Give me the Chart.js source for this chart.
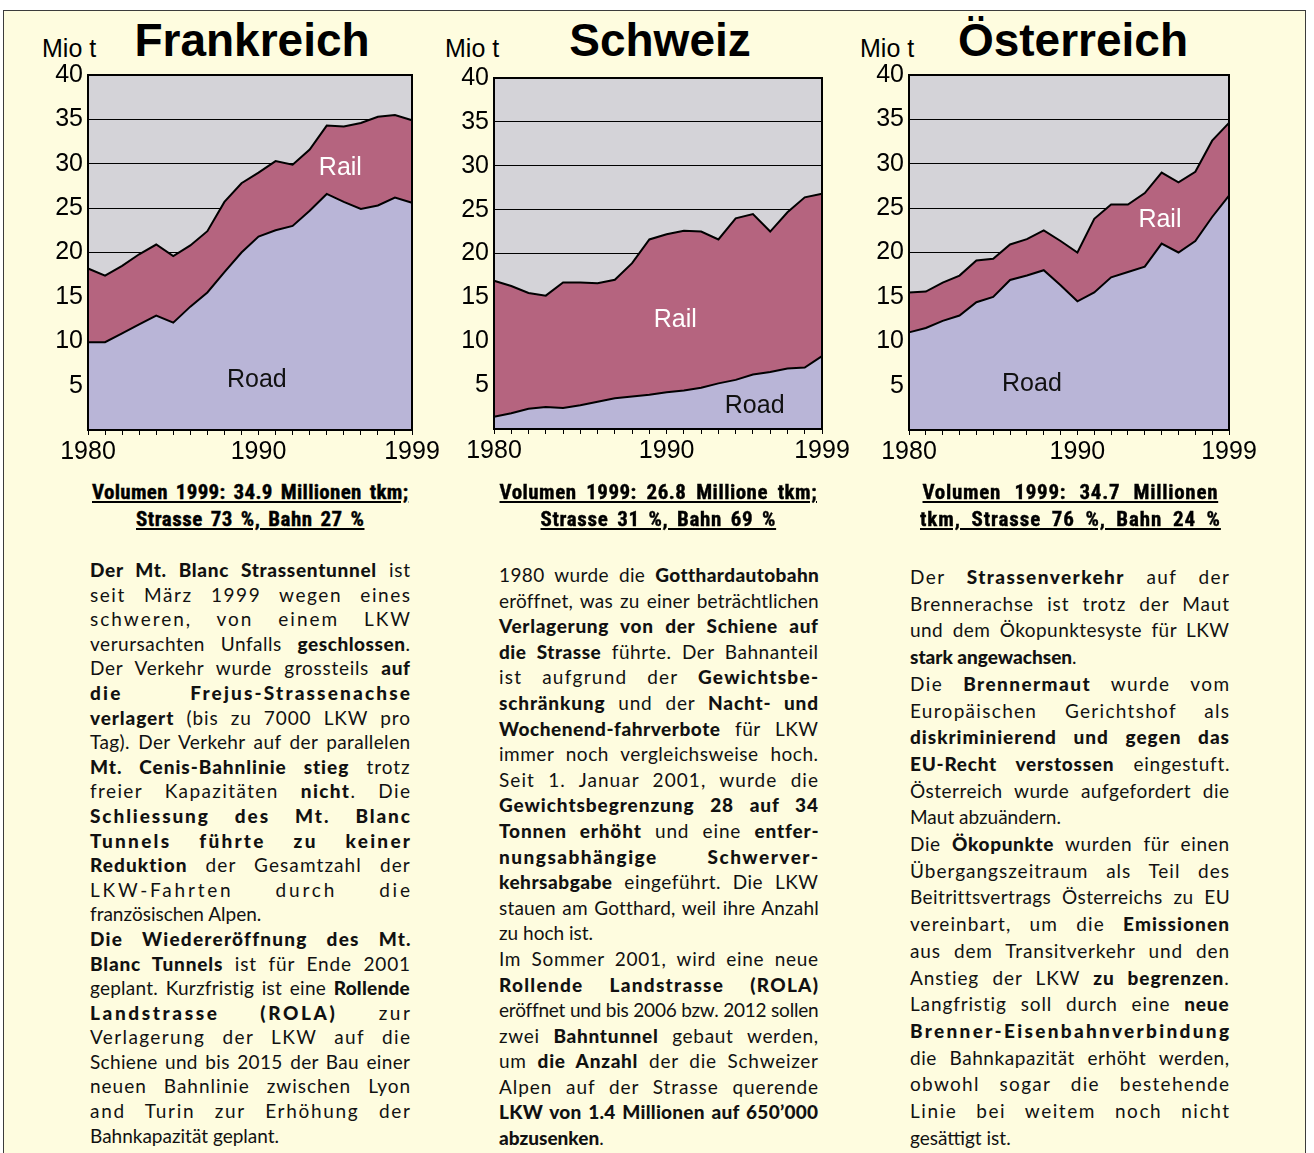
<!DOCTYPE html>
<html>
<head>
<meta charset="utf-8">
<script src="https://cdn.jsdelivr.net/npm/chart.js@4.4.1/dist/chart.umd.min.js"></script>
<style>
  body { margin:0; width:1314px; height:1153px; overflow:hidden; position:relative; background:#fff; }
  #box { position:absolute; left:3px; top:10px; width:1301px; height:1200px; border:1.5px solid #3c3c3c; background:#fefcdf; }
  .abs { position:absolute; }
  canvas { position:absolute; }
  .mio { font:25px Arial, "Liberation Sans", sans-serif; line-height:25px; color:#000; white-space:nowrap; }
  .title { font:bold 46px Arial, "Liberation Sans", sans-serif; line-height:46px; width:400px; text-align:center; color:#000; }
  .head { font:bold 21px "Liberation Sans Narrow", "Roboto Condensed", Arial, sans-serif; line-height:26.5px; color:#000; white-space:nowrap; -webkit-text-stroke:0.4px #000; }
  .head span { text-decoration:underline; text-underline-offset:2px; text-decoration-thickness:2px; }
  .col { font-family:Lato, "Noto Sans", sans-serif; font-size:19px; color:#111; }
  .col div { white-space:nowrap; }
  .col b { font-weight:900; }
</style>
</head>
<body>
<div id="box"></div>

<div class="abs mio" style="left:42px;top:36px">Mio t</div>
<div class="abs title" style="left:52px;top:17px">Frankreich</div>
<div class="abs mio" style="left:445px;top:36px">Mio t</div>
<div class="abs title" style="left:460px;top:17px">Schweiz</div>
<div class="abs mio" style="left:860px;top:36px">Mio t</div>
<div class="abs title" style="left:873px;top:17px">Österreich</div>

<canvas id="fr" width="424" height="419" style="left:28px;top:55px"></canvas>
<canvas id="ch" width="428" height="415" style="left:434px;top:58px"></canvas>
<canvas id="at" width="420" height="419" style="left:849px;top:55px"></canvas>

<div id="texts"></div>

<script>
// years on the x axis, only some of them get a label
const years = ['1980','1981','1982','1983','1984','1985','1986','1987','1988','1989',
               '1990','1991','1992','1993','1994','1995','1996','1997','1998','1999'];
const xTickLabels = ['1980', '1990', '1999'];

// Mio t per year (rail is stacked on top of road)
const frRoad = [9.9, 9.9, 10.9, 11.9, 12.9, 12.1, 13.9, 15.5, 17.8, 20.0, 21.8, 22.5, 23.0, 24.7, 26.6, 25.7, 24.9, 25.3, 26.2, 25.6];
const frRail = [8.3, 7.5, 7.6, 7.9, 8.0, 7.5, 6.9, 6.9, 7.9, 7.8, 7.2, 7.8, 6.9, 6.9, 7.7, 8.5, 9.7, 10.0, 9.3, 9.3];

const chRoad = [1.4, 1.8, 2.3, 2.5, 2.4, 2.7, 3.1, 3.5, 3.7, 3.9, 4.2, 4.4, 4.7, 5.2, 5.6, 6.2, 6.5, 6.9, 7.0, 8.3];
const chRail = [15.5, 14.5, 13.2, 12.7, 14.3, 14.0, 13.5, 13.5, 15.2, 17.7, 18.0, 18.2, 17.8, 16.4, 18.4, 18.3, 16.0, 17.8, 19.4, 18.5];

const atRoad = [11.0, 11.5, 12.3, 12.9, 14.4, 15.0, 16.9, 17.4, 18.0, 16.3, 14.5, 15.5, 17.2, 17.8, 18.4, 21.0, 20.0, 21.3, 24.0, 26.4];
const atRail = [4.5, 4.1, 4.3, 4.5, 4.7, 4.3, 4.0, 4.1, 4.5, 5.0, 5.5, 8.3, 8.2, 7.6, 8.3, 8.0, 7.9, 7.8, 8.6, 8.2];

const ROAD_COLOR = '#b9b5d7';
const RAIL_COLOR = '#b5647f';
const PLOT_BG = '#d4d3d8';
const AXIS_FONT = { family: 'Arial, "Liberation Sans", sans-serif', size: 25 };

const plotBg = {
  id: 'plotBg',
  beforeDraw(chart) {
    const a = chart.chartArea, ctx = chart.ctx;
    ctx.save();
    ctx.fillStyle = PLOT_BG;
    ctx.fillRect(a.left, a.top, a.right - a.left, a.bottom - a.top);
    ctx.restore();
  }
};

const frame = {
  id: 'frame',
  afterDatasetsDraw(chart) {
    const a = chart.chartArea, ctx = chart.ctx;
    ctx.save();
    ctx.strokeStyle = '#000';
    ctx.lineWidth = 2;
    ctx.strokeRect(a.left, a.top, a.right - a.left, a.bottom - a.top);
    ctx.restore();
  }
};

// "Rail" / "Road" written inside the areas, placed in data units
const areaLabels = {
  id: 'areaLabels',
  afterDatasetsDraw(chart, args, opts) {
    const ctx = chart.ctx;
    ctx.save();
    ctx.font = '25px Arial, "Liberation Sans", sans-serif';
    ctx.textAlign = 'center';
    ctx.textBaseline = 'middle';
    (opts.items || []).forEach(it => {
      ctx.fillStyle = it.color;
      ctx.fillText(it.text, chart.scales.x.getPixelForValue(it.at[0]), chart.scales.y.getPixelForValue(it.at[1]));
    });
    ctx.restore();
  }
};

function buildAreaChart(id, road, rail, labelItems) {
  new Chart(document.getElementById(id), {
    type: 'line',
    data: {
      labels: years,
      datasets: [
        { label: 'Road', data: road, fill: 'origin', backgroundColor: ROAD_COLOR,
          borderColor: '#000', borderWidth: 2, pointRadius: 0, tension: 0 },
        { label: 'Rail', data: rail, fill: '-1', backgroundColor: RAIL_COLOR,
          borderColor: '#000', borderWidth: 2, pointRadius: 0, tension: 0 }
      ]
    },
    options: {
      responsive: false,
      animation: false,
      devicePixelRatio: 1,
      layout: { padding: { top: 16, right: 40, left: 0, bottom: 0 } },
      plugins: {
        legend: { display: false },
        tooltip: { enabled: false },
        areaLabels: { items: labelItems }
      },
      scales: {
        x: {
          ticks: {
            autoSkip: false, maxRotation: 0, color: '#000', font: AXIS_FONT, padding: 2,
            callback: function(v) {
              const l = this.getLabelForValue(v);
              return xTickLabels.includes(l) ? l : '';
            }
          },
          grid: { drawOnChartArea: false, drawTicks: true, tickLength: 5, color: '#000', lineWidth: 1 },
          border: { display: true, color: '#000', width: 2 },
          afterFit: s => { s.height = 44; }
        },
        y: {
          stacked: true, min: 0, max: 40,
          ticks: { stepSize: 5, color: '#000', font: AXIS_FONT, padding: 5,
                   callback: v => v === 0 ? '' : v },
          grid: { color: '#000', lineWidth: 1, drawTicks: false },
          border: { display: true, color: '#000', width: 2 },
          afterFit: s => { s.width = 60; }
        }
      }
    },
    plugins: [plotBg, frame, areaLabels]
  });
}

buildAreaChart('fr', frRoad, frRail, [
  { text: 'Rail', at: [14.8, 29.5], color: '#fff' },
  { text: 'Road', at: [9.9, 5.6], color: '#111' }
]);
buildAreaChart('ch', chRoad, chRail, [
  { text: 'Rail', at: [10.5, 12.4], color: '#fff' },
  { text: 'Road', at: [15.1, 2.6], color: '#111' }
]);
buildAreaChart('at', atRoad, atRail, [
  { text: 'Rail', at: [14.9, 23.6], color: '#fff' },
  { text: 'Road', at: [7.3, 5.2], color: '#111' }
]);

// ---- text below the charts ----
const headings = [
  { center: 250, top: 479, lines: [['Volumen 1999: 34.9 Millionen tkm;', 316], ['Strasse 73 %, Bahn 27 %', 228]] },
  { center: 658, top: 479, lines: [['Volumen 1999: 26.8 Millione tkm;', 317], ['Strasse 31 %, Bahn 69 %', 235]] },
  { center: 1070, top: 479, lines: [['Volumen 1999: 34.7 Millionen', 295], ['tkm, Strasse 76 %, Bahn 24 %', 300]] }
];

// '~' at the start = last line of a paragraph, not justified
const frText = [
  '<b>Der Mt. Blanc Strassentunnel</b> ist',
  'seit März 1999 wegen eines',
  'schweren, von einem LKW',
  'verursachten Unfalls <b>geschlossen</b>.',
  'Der Verkehr wurde grossteils <b>auf</b>',
  '<b>die Frejus-Strassenachse</b>',
  '<b>verlagert</b> (bis zu 7000 LKW pro',
  'Tag). Der Verkehr auf der parallelen',
  '<b>Mt. Cenis-Bahnlinie stieg</b> trotz',
  'freier Kapazitäten <b>nicht</b>. Die',
  '<b>Schliessung des Mt. Blanc</b>',
  '<b>Tunnels führte zu keiner</b>',
  '<b>Reduktion</b> der Gesamtzahl der',
  'LKW-Fahrten durch die',
  '~französischen Alpen.',
  '<b>Die Wiedereröffnung des Mt.</b>',
  '<b>Blanc Tunnels</b> ist für Ende 2001',
  'geplant. Kurzfristig ist eine <b>Rollende</b>',
  '<b>Landstrasse (ROLA)</b> zur',
  'Verlagerung der LKW auf die',
  'Schiene und bis 2015 der Bau einer',
  'neuen Bahnlinie zwischen Lyon',
  'and Turin zur Erhöhung der',
  '~Bahnkapazität geplant.'
];
const chText = [
  '1980 wurde die <b>Gotthardautobahn</b>',
  'eröffnet, was zu einer beträchtlichen',
  '<b>Verlagerung von der Schiene auf</b>',
  '<b>die Strasse</b> führte. Der Bahnanteil',
  'ist aufgrund der <b>Gewichtsbe-</b>',
  '<b>schränkung</b> und der <b>Nacht- und</b>',
  '<b>Wochenend-fahrverbote</b> für LKW',
  'immer noch vergleichsweise hoch.',
  'Seit 1. Januar 2001, wurde die',
  '<b>Gewichtsbegrenzung 28 auf 34</b>',
  '<b>Tonnen erhöht</b> und eine <b>entfer-</b>',
  '<b>nungsabhängige Schwerver-</b>',
  '<b>kehrsabgabe</b> eingeführt. Die LKW',
  'stauen am Gotthard, weil ihre Anzahl',
  '~zu hoch ist.',
  'Im Sommer 2001, wird eine neue',
  '<b>Rollende Landstrasse (ROLA)</b>',
  'eröffnet und bis 2006 bzw. 2012 sollen',
  'zwei <b>Bahntunnel</b> gebaut werden,',
  'um <b>die Anzahl</b> der die Schweizer',
  'Alpen auf der Strasse querende',
  '<b>LKW von 1.4 Millionen auf 650’000</b>',
  '~<b>abzusenken</b>.'
];
const atText = [
  'Der <b>Strassenverkehr</b> auf der',
  'Brennerachse ist trotz der Maut',
  'und dem Ökopunktesyste für LKW',
  '~<b>stark angewachsen</b>.',
  'Die <b>Brennermaut</b> wurde vom',
  'Europäischen Gerichtshof als',
  '<b>diskriminierend und gegen das</b>',
  '<b>EU-Recht verstossen</b> eingestuft.',
  'Österreich wurde aufgefordert die',
  '~Maut abzuändern.',
  'Die <b>Ökopunkte</b> wurden für einen',
  'Übergangszeitraum als Teil des',
  'Beitrittsvertrags Österreichs zu EU',
  'vereinbart, um die <b>Emissionen</b>',
  'aus dem Transitverkehr und den',
  'Anstieg der LKW <b>zu begrenzen</b>.',
  'Langfristig soll durch eine <b>neue</b>',
  '<b>Brenner-Eisenbahnverbindung</b>',
  'die Bahnkapazität erhöht werden,',
  'obwohl sogar die bestehende',
  'Linie bei weitem noch nicht',
  '~gesättigt ist.'
];
const columns = [
  { left: 90, width: 320, top: 558, pitch: 24.6, lines: frText },
  { left: 499, width: 319, top: 562, pitch: 25.6, lines: chText },
  { left: 910, width: 319, top: 564, pitch: 26.7, lines: atText }
];

// stretch (or squeeze) one line so it fills the given width
function fitLine(span, width, justify) {
  const w = span.getBoundingClientRect().width;
  const extra = width - w;
  const n = span.textContent.length;
  const spaces = (span.textContent.match(/ /g) || []).length;
  if (extra < 0) { span.style.letterSpacing = (extra / (n - 1)) + 'px'; return; }
  if (!justify) return;
  if (spaces === 0) { span.style.letterSpacing = (extra / (n - 1)) + 'px'; return; }
  const ls = extra * 0.45 / (n - 1);
  span.style.letterSpacing = ls + 'px';
  span.style.wordSpacing = ((extra - ls * (n - 1)) / spaces) + 'px';
}

const host = document.getElementById('texts');
headings.forEach(h => {
  h.lines.forEach(([txt, w], i) => {
    const d = document.createElement('div');
    d.className = 'abs head';
    d.style.left = (h.center - w / 2) + 'px';
    d.style.top = (h.top + i * 26.5) + 'px';
    d.style.width = w + 'px';
    const s = document.createElement('span');
    s.textContent = txt;
    d.appendChild(s);
    host.appendChild(d);
    fitLine(s, w, true);
  });
});

columns.forEach(c => {
  const box = document.createElement('div');
  box.className = 'abs col';
  box.style.left = c.left + 'px';
  box.style.top = c.top + 'px';
  box.style.width = c.width + 'px';
  box.style.lineHeight = c.pitch + 'px';
  host.appendChild(box);
  c.lines.forEach(line => {
    const last = line.startsWith('~');
    const d = document.createElement('div');
    const s = document.createElement('span');
    s.innerHTML = last ? line.slice(1) : line;
    d.appendChild(s);
    box.appendChild(d);
    fitLine(s, c.width, !last);
  });
});
</script>
</body>
</html>
